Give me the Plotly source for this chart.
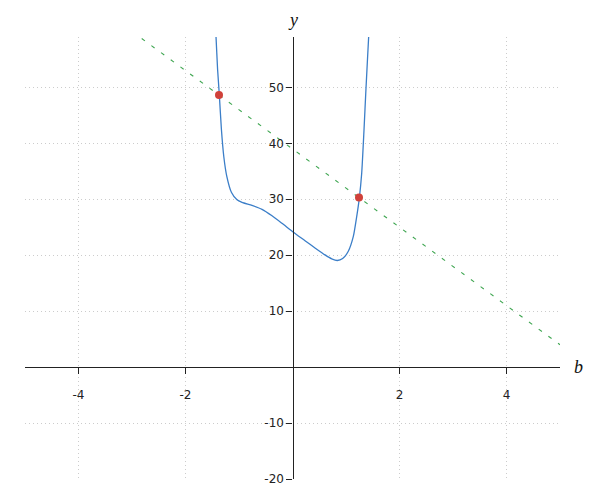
import plotly.graph_objects as go

# Curve values
curve_b = [-1.47, -1.430, -1.400, -1.368, -1.329, -1.284, -1.228, -1.140, -1.037, -0.944,
           -0.757, -0.570, -0.383, -0.196, 0.004, 0.234, 0.421, 0.607, 0.733, 0.837,
           0.938, 1.043, 1.137, 1.200, 1.249, 1.293, 1.336, 1.374, 1.424, 1.45]
curve_y = [66.0, 59.1, 53.2, 48.7, 42.5, 37.6, 34.1, 31.2, 29.9, 29.45,
           28.9, 28.2, 27.05, 25.7, 24.2, 22.6, 21.3, 20.05, 19.35, 19.05,
           19.4, 20.7, 23.35, 26.9, 30.2, 34.6, 42.3, 49.9, 59.1, 64.0]

# Dashed straight line
line_b = [-3.0, 5.0]
line_y = [60.0, 4.0]

# Intersection points
pts_b = [-1.374, 1.243]
pts_y = [48.65, 30.3]

x_ticks = [-4, -2, 2, 4]
y_ticks = [-20, -10, 10, 20, 30, 40, 50]

x_range = [-5, 5]
y_range = [-20, 59]

fig = go.Figure()
fig.add_trace(go.Scatter(x=line_b, y=line_y, mode="lines",
                         line=dict(color="#3fa651", width=1.1, dash="4px,8px"),
                         hoverinfo="skip"))
fig.add_trace(go.Scatter(x=curve_b, y=curve_y, mode="lines",
                         line=dict(color="#3b7ec8", width=1.3, shape="spline", smoothing=0.6),
                         hoverinfo="skip"))
fig.add_trace(go.Scatter(x=pts_b, y=pts_y, mode="markers",
                         marker=dict(color="#d0413a", size=8),
                         hoverinfo="skip"))

y0_frac = (0 - y_range[0]) / (y_range[1] - y_range[0])
x0_frac = (0 - x_range[0]) / (x_range[1] - x_range[0])

tickfont = dict(family="DejaVu Sans", size=12, color="#222222")

# page body has an 8px margin, so the figure is sized/offset to compensate
fig.update_layout(
    width=592, height=492,
    margin=dict(l=17, r=40, t=29, b=21),
    paper_bgcolor="white", plot_bgcolor="white",
    showlegend=False,
    xaxis=dict(range=x_range, anchor="free", position=y0_frac, automargin=False,
               tickvals=x_ticks, ticktext=[str(v) for v in x_ticks],
               ticks="outside", ticklen=6, tickcolor="#222222", tickwidth=1,
               showline=True, linecolor="#222222", linewidth=1.3,
               showgrid=True, gridcolor="#cccccc", griddash="1px,3px", gridwidth=1,
               zeroline=False, tickfont=tickfont, ticklabelstandoff=10),
    yaxis=dict(range=y_range, anchor="free", position=x0_frac, automargin=False,
               tickvals=y_ticks, ticktext=[str(v) for v in y_ticks],
               ticks="outside", ticklen=6, tickcolor="#222222", tickwidth=1,
               showline=True, linecolor="#222222", linewidth=1.3,
               showgrid=True, gridcolor="#cccccc", griddash="1px,3px", gridwidth=1,
               zeroline=False, tickfont=tickfont),
    annotations=[
        dict(text="<i>y</i>", x=0, y=y_range[1], xref="x", yref="y", yshift=17,
             showarrow=False, font=dict(family="Liberation Serif", size=18, color="#111111"),
             xanchor="center", yanchor="middle"),
        dict(text="<i>b</i>", x=x_range[1], y=0, xref="x", yref="y", xshift=18,
             showarrow=False, font=dict(family="Liberation Serif", size=18, color="#111111"),
             xanchor="center", yanchor="middle"),
    ],
)

fig.write_html("out.html")
